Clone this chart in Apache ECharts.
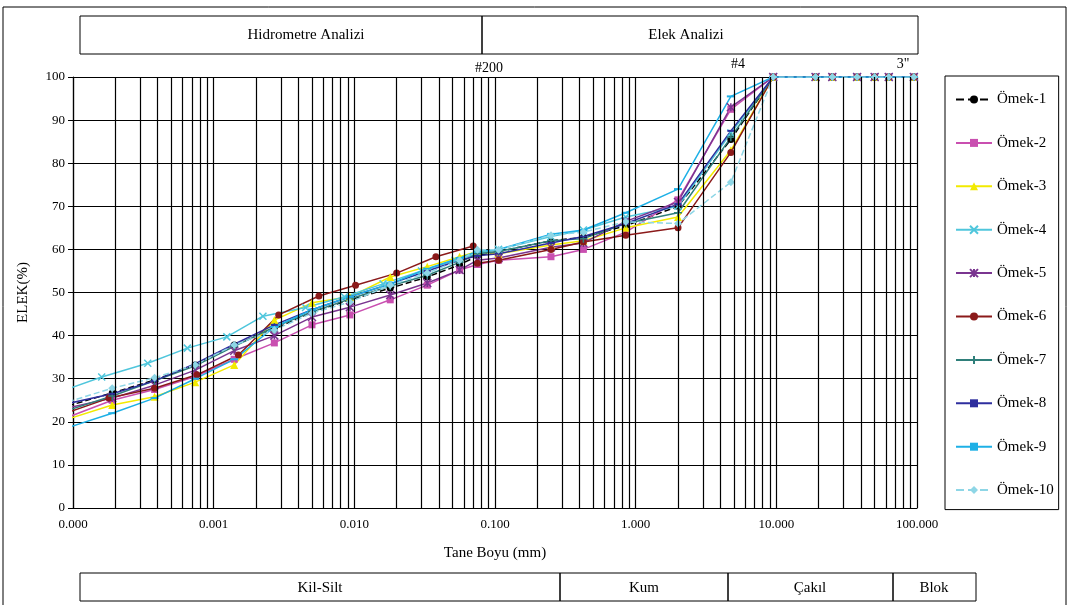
<!DOCTYPE html>
<html>
<head>
<meta charset="utf-8">
<script src="https://cdn.jsdelivr.net/npm/echarts@6/dist/echarts.min.js"></script>
<style>
  html, body { margin: 0; padding: 0; background: #fff; }
  #chart { width: 1069px; height: 605px; }
</style>
</head>
<body>
<div id="chart"></div>
<script>
  /*----- data -----*/
  // hydrometer grain sizes (mm), first one lies left of the axis start
  var hydroSizes = [0.00008, 0.00019, 0.00038, 0.00074, 0.0014, 0.0027, 0.005, 0.0093, 0.018, 0.033, 0.056];
  var hydroSizes4 = [0.00008, 0.00016, 0.00034, 0.00065, 0.00124, 0.00224, 0.0045, 0.0085, 0.016, 0.030, 0.052];
  var hydroSizes6 = [0.00008, 0.00018, 0.00038, 0.00076, 0.0015, 0.0029, 0.0056, 0.0102, 0.02, 0.038, 0.07];
  // sieve sizes (mm)
  var sieveSizes = [0.075, 0.106, 0.25, 0.425, 0.85, 2, 4.75, 9.5, 19, 25, 37.5, 50, 63, 95];

  var names = ['Ömek-1', 'Ömek-2', 'Ömek-3', 'Ömek-4', 'Ömek-5', 'Ömek-6', 'Ömek-7', 'Ömek-8', 'Ömek-9', 'Ömek-10'];

  var hydro1 = [23.1, 26.7, 29.7, 33.2, 37.8, 41.5, 45.5, 48.3, 51, 53.6, 56.4];
  var sieve1 = [58.5, 59.5, 62, 62.8, 65.5, 70, 85.5, 100, 100, 100, 100, 100, 100, 100];
  var hydro2 = [20.3, 25, 27.5, 30.5, 34.5, 38.3, 42.5, 44.8, 48.3, 51.7, 55.2];
  var sieve2 = [56.5, 57.5, 58.3, 60, 64, 71.5, 92.5, 100, 100, 100, 100, 100, 100, 100];
  var hydro3 = [20, 23.9, 25.8, 29.2, 33.2, 43.6, 47.6, 49, 53.6, 56, 58.3];
  var sieve3 = [59.5, 59, 61, 62, 65, 67.5, 83, 100, 100, 100, 100, 100, 100, 100];
  var hydro4 = [26.9, 30.4, 33.6, 37.1, 39.7, 44.5, 46.5, 49, 52, 55, 57.5];
  var sieve4 = [59, 60, 63, 64.5, 67.5, 70, 87, 100, 100, 100, 100, 100, 100, 100];
  var hydro5 = [22.8, 25.5, 28.5, 32, 36.5, 40, 44.3, 46.6, 49.4, 52.2, 55.2];
  var sieve5 = [57.5, 58, 60.5, 61.5, 66.5, 71, 93, 100, 100, 100, 100, 100, 100, 100];
  var hydro6 = [21.5, 25.5, 27.8, 30.9, 35.5, 44.8, 49.2, 51.7, 54.5, 58.3, 60.8];
  var sieve6 = [56.8, 57.5, 60, 61.7, 63.3, 65, 82.5, 100, 100, 100, 100, 100, 100, 100];
  var hydro7 = [22, 26, 29.5, 33, 37.5, 42, 45.5, 48.5, 51.5, 54, 57];
  var sieve7 = [59, 59.5, 62, 62.5, 66, 68.5, 86, 100, 100, 100, 100, 100, 100, 100];
  var hydro8 = [23.8, 26.5, 29.5, 33.5, 38, 42.5, 46, 49, 52, 55, 57.5];
  var sieve8 = [58.5, 59, 61.5, 63, 66, 70.5, 87.5, 100, 100, 100, 100, 100, 100, 100];
  var hydro9 = [18, 22, 25.5, 30, 34.5, 42, 46, 49, 52, 55.5, 58];
  var sieve9 = [59.5, 60, 63.5, 64.5, 68.5, 74, 95.5, 100, 100, 100, 100, 100, 100, 100];
  var hydro10 = [24, 27.8, 30.2, 33.2, 37.8, 41.3, 45.2, 47.8, 51.7, 54.5, 57.5];
  var sieve10 = [59.9, 59.9, 63.3, 64, 66.4, 66, 75.6, 100, 100, 100, 100, 100, 100, 100];

  var yTicks = [0, 10, 20, 30, 40, 50, 60, 70, 80, 90, 100];
  var decades = [0.0001, 0.001, 0.01, 0.1, 1, 10];

  /*----- helpers -----*/
  function pairs(hs, hv, sv) {
    var out = [];
    for (var i = 0; i < hs.length; i++) out.push([hs[i], hv[i]]);
    for (var j = 0; j < sieveSizes.length; j++) out.push([sieveSizes[j], sv[j]]);
    return out;
  }

  var colors = ['#000000', '#c94fb0', '#f2ea00', '#4fc6dc', '#7a3590', '#8b1a1a', '#2f7f7a', '#2e2e9e', '#1eb0e6', '#8ed6e6'];
  var symbols = [
    'circle',
    'rect',
    'triangle',
    'path://M0,0L10,10M10,0L0,10',
    'path://M0,0L10,10M10,0L0,10M5,0L5,10',
    'circle',
    'path://M5,0L5,10M0,5L10,5',
    'rect',
    'rect',
    'diamond'
  ];
  var symbolSizes = [7, 7, 8, 7, 8, 7, 8, [7, 2], [8, 2], 8];
  var dashed = [true, false, false, false, false, false, false, false, false, true];

  var allData = [
    pairs(hydroSizes, hydro1, sieve1),
    pairs(hydroSizes, hydro2, sieve2),
    pairs(hydroSizes, hydro3, sieve3),
    pairs(hydroSizes4, hydro4, sieve4),
    pairs(hydroSizes, hydro5, sieve5),
    pairs(hydroSizes6, hydro6, sieve6),
    pairs(hydroSizes, hydro7, sieve7),
    pairs(hydroSizes, hydro8, sieve8),
    pairs(hydroSizes, hydro9, sieve9),
    pairs(hydroSizes, hydro10, sieve10)
  ];

  // minor vertical grid lines 2..9 x 10^n
  var minorLines = [];
  decades.forEach(function (dec) {
    for (var k = 2; k <= 9; k++) {
      var v = dec * k;
      minorLines.push([{ coord: [v, yTicks[0]] }, { coord: [v, yTicks[yTicks.length - 1]] }]);
    }
  });

  var series = [{
    name: 'grid',
    type: 'line',
    data: [],
    silent: true,
    markLine: {
      silent: true,
      symbol: 'none',
      precision: 8,
      label: { show: false },
      lineStyle: { color: '#000', width: 1.2, type: 'solid' },
      data: minorLines
    }
  }];

  for (var i = 0; i < names.length; i++) {
    series.push({
      name: names[i],
      type: 'line',
      data: allData[i],
      clip: true,
      symbol: symbols[i],
      symbolSize: symbolSizes[i],
      showAllSymbol: true,
      color: colors[i],
      itemStyle: { color: colors[i], borderColor: colors[i], borderWidth: symbols[i].indexOf('path') === 0 ? 1.5 : 0 },
      lineStyle: { color: colors[i], width: 1.5, type: dashed[i] ? 'dashed' : 'solid' }
    });
  }

  var serif = '"Liberation Serif", "DejaVu Serif", serif';

  var chart = echarts.init(document.getElementById('chart'));

  var option = {
    animation: false,
    backgroundColor: '#fff',
    textStyle: { fontFamily: serif },
    grid: {
      top: 77,
      left: 73,
      right: 152,
      bottom: 97
    },
    legend: {
      data: names,
      orient: 'vertical',
      left: 945,
      top: 76,
      itemWidth: 36,
      itemHeight: 10,
      itemGap: 28.4,
      padding: [16, 5, 12, 10],
      borderColor: '#000',
      borderWidth: 1,
      textStyle: { fontFamily: serif, fontSize: 15, color: '#000' }
    },
    xAxis: {
      type: 'log',
      logBase: 10,
      min: 0.0001,
      max: 100,
      name: 'Tane Boyu (mm)',
      nameLocation: 'middle',
      nameGap: 38,
      nameTextStyle: { fontFamily: serif, fontSize: 15, color: '#000' },
      axisLine: { lineStyle: { color: '#000', width: 1.2 } },
      axisTick: { show: false },
      axisLabel: {
        fontFamily: serif,
        fontSize: 13,
        color: '#000',
        margin: 10,
        formatter: function (v) { return v.toFixed(3); }
      },
      splitLine: { show: true, lineStyle: { color: '#000', width: 1.2 } }
    },
    yAxis: {
      type: 'value',
      min: yTicks[0],
      max: yTicks[yTicks.length - 1],
      interval: 10,
      name: 'ELEK(%)',
      nameLocation: 'middle',
      nameGap: 42,
      nameRotate: 90,
      nameTextStyle: { fontFamily: serif, fontSize: 15, color: '#000' },
      axisLine: { show: true, lineStyle: { color: '#000', width: 1.2 } },
      axisTick: { show: true, length: 5, lineStyle: { color: '#000' } },
      axisLabel: { fontFamily: serif, fontSize: 13, color: '#000', margin: 8 },
      splitLine: { show: true, lineStyle: { color: '#000', width: 1.2 } }
    },
    graphic: [
      // outer frame
      { type: 'rect', shape: { x: 3, y: 7, width: 1063, height: 610 }, style: { fill: 'none', stroke: '#000', lineWidth: 1 }, silent: true },
      // header boxes
      { type: 'rect', shape: { x: 80, y: 16, width: 402, height: 38 }, style: { fill: 'none', stroke: '#000', lineWidth: 1 } },
      { type: 'rect', shape: { x: 482, y: 16, width: 436, height: 38 }, style: { fill: 'none', stroke: '#000', lineWidth: 1 } },
      { type: 'text', x: 306, y: 35, style: { text: 'Hidrometre Analizi', font: '15px ' + serif, fill: '#000', textAlign: 'center', textVerticalAlign: 'middle' } },
      { type: 'text', x: 686, y: 35, style: { text: 'Elek Analizi', font: '15px ' + serif, fill: '#000', textAlign: 'center', textVerticalAlign: 'middle' } },
      // sieve labels
      { type: 'text', x: 489, y: 68, style: { text: '#200', font: '14px ' + serif, fill: '#000', textAlign: 'center', textVerticalAlign: 'middle' } },
      { type: 'text', x: 738, y: 64, style: { text: '#4', font: '14px ' + serif, fill: '#000', textAlign: 'center', textVerticalAlign: 'middle' } },
      { type: 'text', x: 903, y: 64, style: { text: '3"', font: '14px ' + serif, fill: '#000', textAlign: 'center', textVerticalAlign: 'middle' } },
      // footer boxes
      { type: 'rect', shape: { x: 80, y: 573, width: 480, height: 28 }, style: { fill: 'none', stroke: '#000', lineWidth: 1 } },
      { type: 'rect', shape: { x: 560, y: 573, width: 168, height: 28 }, style: { fill: 'none', stroke: '#000', lineWidth: 1 } },
      { type: 'rect', shape: { x: 728, y: 573, width: 165, height: 28 }, style: { fill: 'none', stroke: '#000', lineWidth: 1 } },
      { type: 'rect', shape: { x: 893, y: 573, width: 83, height: 28 }, style: { fill: 'none', stroke: '#000', lineWidth: 1 } },
      { type: 'text', x: 320, y: 588, style: { text: 'Kil-Silt', font: '15px ' + serif, fill: '#000', textAlign: 'center', textVerticalAlign: 'middle' } },
      { type: 'text', x: 644, y: 588, style: { text: 'Kum', font: '15px ' + serif, fill: '#000', textAlign: 'center', textVerticalAlign: 'middle' } },
      { type: 'text', x: 810, y: 588, style: { text: 'Çakıl', font: '15px ' + serif, fill: '#000', textAlign: 'center', textVerticalAlign: 'middle' } },
      { type: 'text', x: 934, y: 588, style: { text: 'Blok', font: '15px ' + serif, fill: '#000', textAlign: 'center', textVerticalAlign: 'middle' } }
    ],
    series: series
  };

  chart.setOption(option);
</script>
</body>
</html>
